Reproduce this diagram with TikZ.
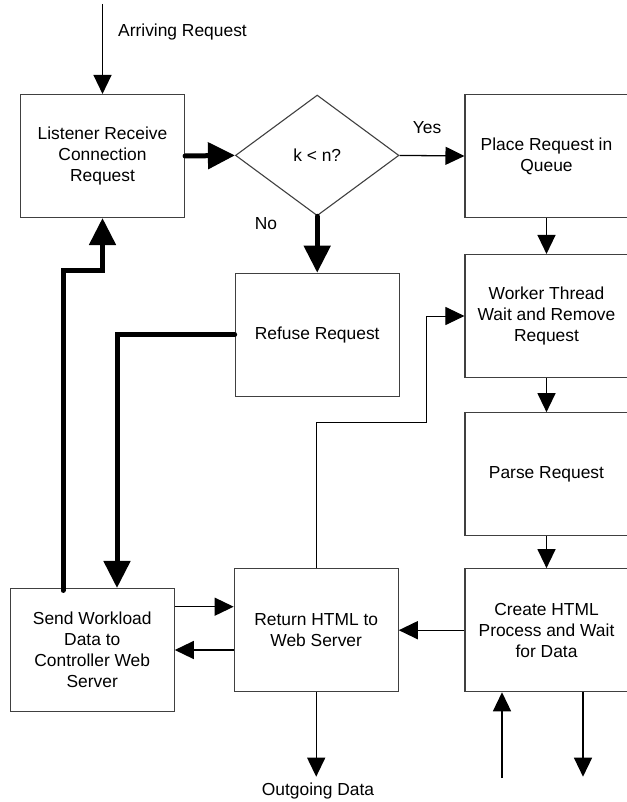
\documentclass[tikz,border=0pt]{standalone}
\usepackage{fontspec}
\setmainfont{Liberation Sans}
\usetikzlibrary{arrows.meta,shapes.geometric}
\begin{document}
\begin{tikzpicture}[x=1pt,y=-1pt,
  font=\fontsize{17.4pt}{21pt}\selectfont,
  box/.style={draw=black!75,line width=1.1pt,minimum width=164pt,minimum height=123pt,inner sep=2pt,align=center},
  decision/.style={diamond,draw=black!75,line width=1.1pt,minimum width=163.5pt,minimum height=120.7pt,inner sep=0pt},
  thin/.style={line width=1.3pt,-{Triangle[length=19pt,width=18pt]}},
  heavy/.style={line width=5pt,line cap=round,-{Triangle[length=27pt,width=26pt]}},
  lbl/.style={inner sep=0pt}]
\useasboundingbox (0,0) rectangle (626,802);

% process boxes
\node[box] (lis) at (102.5,156) {Listener Receive\\Connection\\Request};
\node[decision] (dia) at (317.2,155.4) {k < n?};
\node[box,minimum width=163pt] (place) at (546.5,156) {Place Request in\\Queue};
\node[box,minimum width=163pt] (work) at (546.5,316) {Worker Thread\\Wait and Remove\\Request};
\node[box,minimum width=163pt] (parse) at (546.5,474.2) {Parse Request};
\node[box,minimum width=163pt] (create) at (546.5,630.2) {Create HTML\\Process and Wait\\for Data};
\node[box] (refuse) at (317.2,334.7) {Refuse Request};
\node[box] (ret) at (316.2,630.2) {Return HTML to\\Web Server};
\node[box] (send) at (92.25,650) {Send Workload\\Data to\\Controller Web\\Server};

% free ends of the outer connectors
\coordinate (inTop) at (102.5,4);
\coordinate (outBot) at (316.2,776.7);
\coordinate (dataIn) at (502,778);
\coordinate (dataOut) at (583,776.7);
\coordinate (upTurn) at (63,270.7);
\coordinate (downCol) at (117,334);
\coordinate (loopTurn) at (426,422.7);

% labels
\node[lbl,anchor=west] (arr) at (118,31.7) {Arriving Request};
\node[lbl] (yes) at (427,127.7) {Yes};
\node[lbl] (no) at (266,224) {No};
\node[lbl] (outlbl) at (318,790.7) {Outgoing Data};

% thin connectors
\draw[thin] (inTop) -- (lis.north);
\draw[thin] (dia.east) -- (place.west);
\draw[thin] (place.south) -- (work.north);
\draw[thin] (work.south) -- (parse.north);
\draw[thin] (parse.south) -- (create.north);
\draw[thin] (create.west) -- (ret.east);
\draw[thin] (send.east |- 0,606.7) -- (ret.west |- 0,606.7);
\draw[thin] (ret.west |- send.east) -- (send.east);
\draw[thin] (ret.south) -- (outBot);
\draw[thin] (dataIn) -- (create.south -| dataIn);
\draw[thin] (create.south -| dataOut) -- (dataOut);
\draw[line width=1pt,-{Triangle[length=19pt,width=18pt]}] (ret.north) |- (loopTurn) |- (work.west);

% heavy connectors
\draw[heavy] (lis.east) -- (dia.west);
\draw[heavy] (dia.south) -- (refuse.north);
\draw[heavy] (refuse.west) -| (send.north -| downCol);
\draw[heavy] ([yshift=-2.5pt]send.north -| upTurn) |- (lis.south |- upTurn) -- (lis.south);
\end{tikzpicture}
\end{document}
